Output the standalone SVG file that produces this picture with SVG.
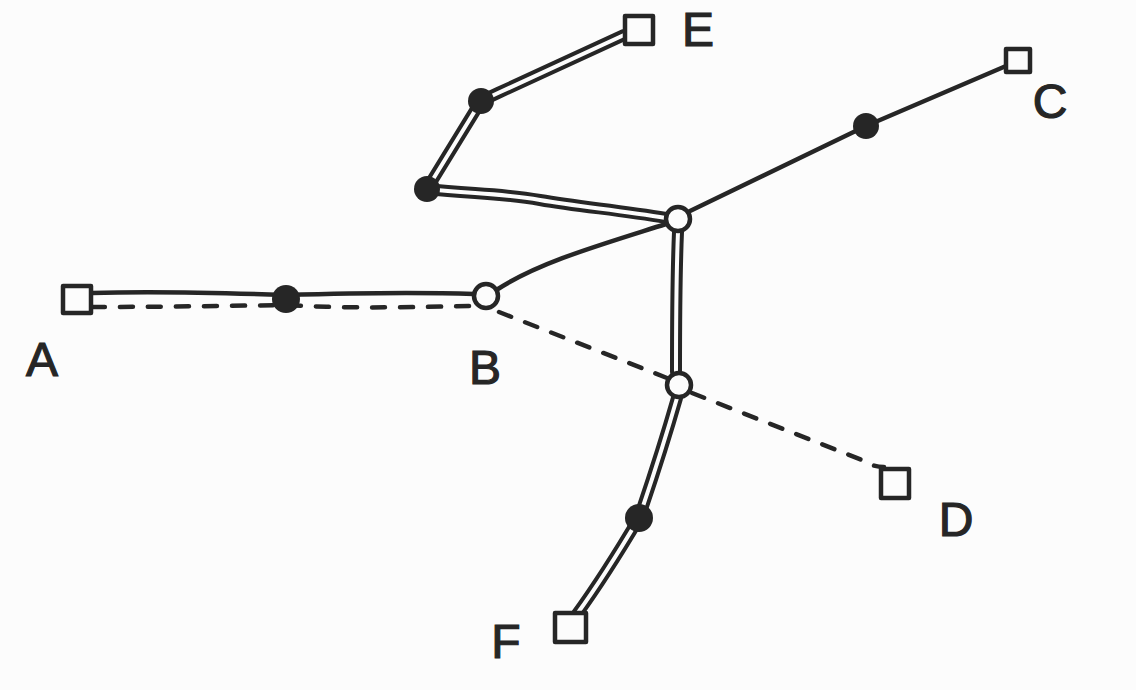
<svg xmlns="http://www.w3.org/2000/svg" width="1136" height="690" viewBox="0 0 1136 690">
<style>
.bg{fill:#fcfcfc}
.s{fill:none;stroke:#262626;stroke-width:4.5;stroke-linecap:round;stroke-linejoin:round}
.d{fill:none;stroke:#262626;stroke-width:4.5;stroke-linecap:round;stroke-dasharray:13 15}
.dbl{fill:none;stroke:#262626;stroke-width:12;stroke-linecap:round;stroke-linejoin:round}
.dbi{fill:none;stroke:#fcfcfc;stroke-width:4;stroke-linecap:round;stroke-linejoin:round}
.sq{fill:#fcfcfc;stroke:#262626;stroke-width:4.5;stroke-linejoin:round}
.open{fill:#fcfcfc;stroke:#262626;stroke-width:4.5}
.dot{fill:#262626}
.lbl{font-family:"Liberation Sans",Arial,sans-serif;font-size:48px;fill:#262626;stroke:#262626;stroke-width:1.2;text-anchor:middle}
</style>
<rect class="bg" x="0" y="0" width="1136" height="690"/>
<g id="connectors">
  <path class="s" d="M92 293 C150 291 200 292 285 295 C350 293 420 292 474 294"/>
  <path class="d" d="M92 307 C150 307 220 306 285 305 C350 309 420 307 472 306"/>
  <path class="s" d="M498 289 C540 262 600 245 666 224"/>
  <path class="s" d="M690 211 L866 126 L1006 66"/>
  <path class="d" d="M499 312 L667 378"/>
  <path class="d" d="M692 393 L862 460 C872 466 878 467 884 467"/>
  <path class="dbl" d="M666 218 C620 210 580 207 540 200 C500 193 470 194 427 189 L481 101 C530 78 580 55 624 35"/>
  <path class="dbi" d="M666 218 C620 210 580 207 540 200 C500 193 470 194 427 189 L481 101 C530 78 580 55 624 35"/>
  <path class="dbl" d="M678 232 C676 280 676 330 676 372"/>
  <path class="dbi" d="M678 232 C676 280 676 330 676 372"/>
  <path class="dbl" d="M677 398 C665 440 652 480 639 518 C620 550 598 585 577 614"/>
  <path class="dbi" d="M677 398 C665 440 652 480 639 518 C620 550 598 585 577 614"/>
</g>
<g id="nodeA"><rect class="sq" x="63" y="286" width="28" height="27"/><text class="lbl" x="42" y="376">A</text></g>
<g id="dotAB"><circle class="dot" cx="286" cy="299" r="14"/></g>
<g id="nodeB"><circle class="open" cx="486" cy="296" r="12"/><text class="lbl" x="485" y="384">B</text></g>
<g id="J1"><circle class="open" cx="678" cy="219" r="12"/></g>
<g id="J2"><circle class="open" cx="679" cy="385" r="12"/></g>
<g id="dotE2"><circle class="dot" cx="427" cy="189" r="13"/></g>
<g id="dotE1"><circle class="dot" cx="481" cy="101" r="13"/></g>
<g id="nodeE"><rect class="sq" x="625" y="16" width="28" height="28"/><text class="lbl" x="698" y="46">E</text></g>
<g id="dotC"><circle class="dot" cx="866" cy="126" r="13"/></g>
<g id="nodeC"><rect class="sq" x="1006" y="49" width="24" height="23"/><text class="lbl" x="1050" y="118">C</text></g>
<g id="nodeD"><rect class="sq" x="881" y="469" width="28" height="29"/><text class="lbl" x="956" y="536">D</text></g>
<g id="dotF"><circle class="dot" cx="639" cy="518" r="14"/></g>
<g id="nodeF"><rect class="sq" x="555" y="613" width="31" height="29"/><text class="lbl" x="506" y="658">F</text></g>
</svg>
